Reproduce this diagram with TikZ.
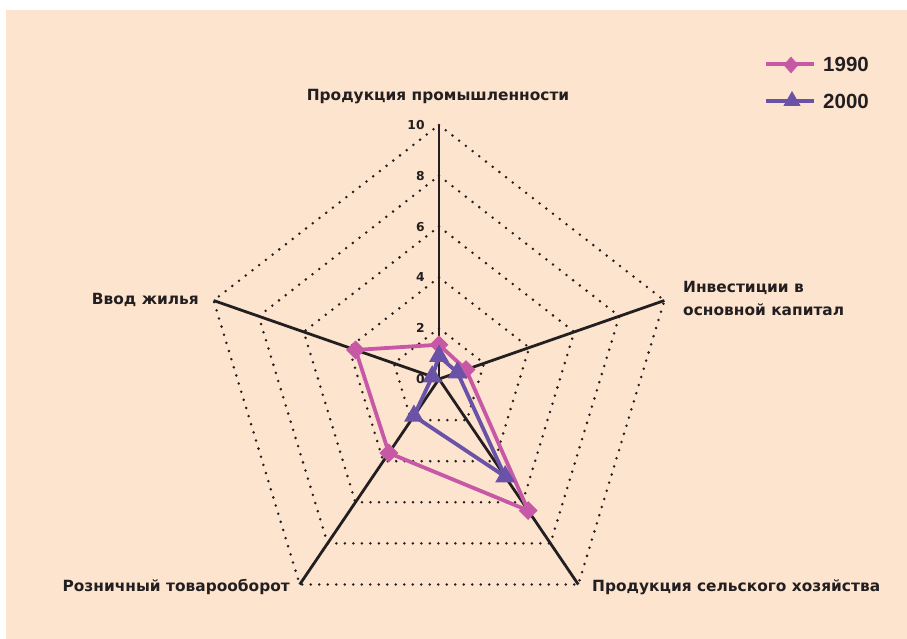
\documentclass[tikz,border=0pt]{standalone}
\usepackage{fontspec}
\setmainfont{Liberation Sans}
\newfontfamily\labfont{DejaVu Sans}
\usetikzlibrary{shapes.geometric}
\definecolor{bgc}{RGB}{253,228,207}
\definecolor{pinkc}{RGB}{198,88,166}
\definecolor{purpc}{RGB}{106,82,166}
\definecolor{inkc}{RGB}{35,31,32}
\tikzset{
  axisline/.style={draw=inkc, line width=2.8pt},
  gridline/.style={draw=inkc, line width=2.8pt, line cap=round, dash pattern=on 0pt off 8.5pt},
  ser90/.style={draw=pinkc, line width=3.8pt, line join=round},
  ser00/.style={draw=purpc, line width=3.8pt, line join=round},
  dmark/.style={diamond, fill=pinkc, inner sep=0pt, minimum size=19pt},
  tmark/.style={regular polygon, regular polygon sides=3, fill=purpc, inner sep=0pt, minimum size=23pt},
  axlabel/.style={font=\labfont\bfseries\fontsize{15.4}{18}\selectfont, text=inkc, inner sep=0pt},
  ticklabel/.style={font=\labfont\bfseries\fontsize{12.3}{14}\selectfont, text=inkc, inner sep=0pt, anchor=east},
  leglabel/.style={font=\bfseries\fontsize{20.5}{22}\selectfont, text=inkc, inner sep=0pt, anchor=west}
}
\begin{document}
\begin{tikzpicture}[x=1pt, y=-1pt]
\useasboundingbox (0,0) rectangle (907,639);
\fill[bgc] (6,10) rectangle (907,639);
\begin{scope}[shift={(439,379)}, x=23.7pt, y=25.4pt]
  \coordinate (O) at (0,0);
  \foreach \k in {2,4,6,8,10} {
    \draw[gridline] (90:\k) -- (18:\k) -- (-54:\k) -- (-126:\k) -- (162:\k) -- cycle;
  }
  \coordinate (eA) at (90:10);
  \coordinate (eB) at (18:10);
  \coordinate (eC) at (-54:10);
  \coordinate (eD) at (-126:10);
  \coordinate (eE) at (162:10);
  \foreach \e in {eA,eB,eC,eD,eE} { \draw[axisline] (O) -- (\e); }
  % 1990
  \coordinate (p1) at (90:1.35);
  \coordinate (p2) at (18:1.2);
  \coordinate (p3) at (-54:6.4);
  \coordinate (p4) at (-126:3.6);
  \coordinate (p5) at (162:3.7);
  % 2000
  \coordinate (q1) at (90:0.9);
  \coordinate (q2) at (18:0.82);
  \coordinate (q3) at (-54:4.75);
  \coordinate (q4) at (-126:1.8);
  \coordinate (q5) at (162:0.3);
  \draw[ser90] (p1) -- (p2) -- (p3) -- (p4) -- (p5) -- cycle;
  \foreach \p in {p1,p2,p3,p4,p5} { \node[dmark] (m\p) at (\p) {}; }
  \draw[ser00] (q1) -- (q2) -- (q3) -- (q4) -- (q5) -- cycle;
  \foreach \q in {q1,q2,q3,q4,q5} { \node[tmark] (m\q) at (\q) {}; }
  \foreach \v in {0,2,4,6,8,10} {
    \node[ticklabel] (t\v) at (-0.6,\v) {\v};
  }
\end{scope}
\node[axlabel] (lA) at (438,97) {Продукция промышленности};
\node[axlabel, anchor=west, align=left, font=\labfont\bfseries\fontsize{15.4}{23}\selectfont] (lB) at (683,298) {Инвестиции в\\основной капитал};
\node[axlabel, anchor=east] (lE) at (199,300) {Ввод жилья};
\node[axlabel, anchor=east] (lD) at (290,587) {Розничный товарооборот};
\node[axlabel, anchor=west] (lC) at (592,587) {Продукция сельского хозяйства};
% legend
\coordinate (g1a) at (766,64);
\coordinate (g1b) at (814,64);
\draw[ser90] (g1a) -- (g1b);
\node[dmark, minimum width=15pt, minimum height=17pt] (g1m) at (791,65) {};
\node[leglabel] (g1t) at (823,64) {1990};
\coordinate (g2a) at (766,101);
\coordinate (g2b) at (814,101);
\draw[ser00] (g2a) -- (g2b);
\node[tmark, minimum size=20pt] (g2m) at (792,101) {};
\node[leglabel] (g2t) at (823,101) {2000};
\end{tikzpicture}
\end{document}
